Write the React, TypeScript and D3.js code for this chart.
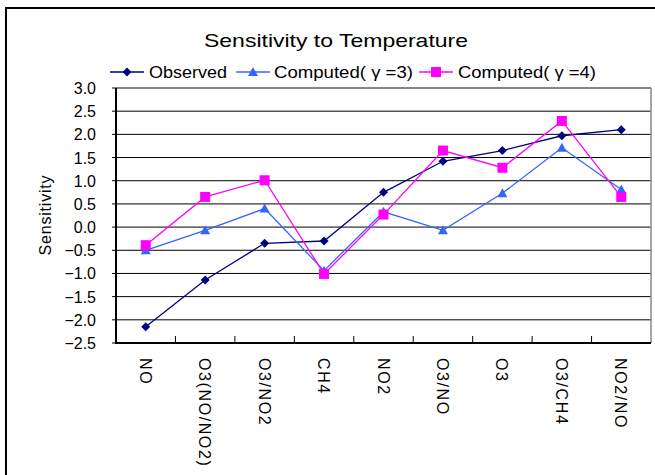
import React from "react";
import * as d3 from "d3";

const categories = ["NO", "O3(NO/NO2)", "O3/NO2", "CH4", "NO2", "O3/NO", "O3", "O3/CH4", "NO2/NO"];
const observed = [-2.15, -1.14, -0.35, -0.3, 0.75, 1.42, 1.65, 1.97, 2.1];
const computed3 = [-0.5, -0.07, 0.4, -0.94, 0.33, -0.07, 0.73, 1.71, 0.81];
const computed4 = [-0.39, 0.65, 1.01, -1.01, 0.27, 1.65, 1.28, 2.29, 0.65];
const yTicks = [3.0, 2.5, 2.0, 1.5, 1.0, 0.5, 0.0, -0.5, -1.0, -1.5, -2.0, -2.5];

const series = [
  { name: "Observed", values: observed, color: "#000080", marker: "diamond" },
  { name: "Computed( γ =3)", values: computed3, color: "#3366FF", marker: "triangle" },
  { name: "Computed( γ =4)", values: computed4, color: "#FF00FF", marker: "square" },
];

const font = "'Liberation Sans', Arial, sans-serif";

function Marker({ type, x, y, color }: { type: string; x: number; y: number; color: string }) {
  if (type === "diamond") {
    return <path d={`M${x},${y - 4.5}L${x + 4.5},${y}L${x},${y + 4.5}L${x - 4.5},${y}Z`} fill={color} />;
  }
  if (type === "triangle") {
    return <path d={`M${x},${y - 5}L${x + 5},${y + 4}L${x - 5},${y + 4}Z`} fill={color} />;
  }
  return <rect x={x - 5} y={y - 5} width={10} height={10} fill={color} />;
}

export default function App() {
  const left = 116, right = 651, top = 88, bottom = 343;
  const x = d3.scaleBand<string>().domain(categories).range([left, right]);
  const y = d3.scaleLinear().domain([-2.5, 3.0]).range([bottom, top]);
  const cx = (c: string) => (x(c) ?? 0) + x.bandwidth() / 2;
  const line = d3.line<number>().x((_, i) => cx(categories[i])).y((d) => y(d));

  // legend layout: line start, text start, text width
  const legendItems = [
    { lx: 110, tx: 149, w: 78 },
    { lx: 236, tx: 274, w: 139 },
    { lx: 419, tx: 458, w: 138 },
  ];

  return (
    <svg width={655} height={475} style={{ position: "absolute", left: 0, top: 0 }}>
      <rect x={0} y={0} width={655} height={475} fill="#fff" />
      <line x1={6} y1={8} x2={6} y2={475} stroke="#000" strokeWidth={2} />
      <line x1={5} y1={8} x2={655} y2={8} stroke="#000" strokeWidth={2} />

      <text x={204} y={47} textLength={264} lengthAdjust="spacingAndGlyphs" fontFamily={font} fontSize={19}>
        Sensitivity to Temperature
      </text>

      {series.map((s, i) => (
        <g key={s.name}>
          <line x1={legendItems[i].lx} x2={legendItems[i].lx + 34} y1={72} y2={72} stroke={s.color} strokeWidth={1.5} />
          <Marker type={s.marker} x={legendItems[i].lx + 17} y={72} color={s.color} />
          <text x={legendItems[i].tx} y={78} textLength={legendItems[i].w} lengthAdjust="spacingAndGlyphs" fontFamily={font} fontSize={17}>
            {s.name}
          </text>
        </g>
      ))}

      {yTicks.map((t) => (
        <g key={t}>
          <line x1={left} x2={right} y1={y(t)} y2={y(t)} stroke="#000" strokeWidth={1} />
          <line x1={left - 4} x2={left} y1={y(t)} y2={y(t)} stroke="#000" />
          <text x={96} y={y(t) + 6} textAnchor="end" fontFamily={font} fontSize={16}>
            {t < 0 ? "−" + Math.abs(t).toFixed(1) : t.toFixed(1)}
          </text>
        </g>
      ))}
      <line x1={right} x2={right} y1={top} y2={bottom} stroke="#888" strokeWidth={1.5} />
      <line x1={left} x2={right} y1={top} y2={top} stroke="#888" strokeWidth={1.5} />
      <line x1={left} x2={left} y1={top} y2={bottom + 1} stroke="#000" strokeWidth={2} />
      <line x1={left} x2={right} y1={bottom} y2={bottom} stroke="#000" strokeWidth={2} />
      {categories.map((c, i) =>
        i === 0 ? null : (
          <line key={c} x1={x(c)} x2={x(c)} y1={bottom} y2={bottom - 7} stroke="#000" />
        )
      )}

      <text transform={`translate(51,215) rotate(-90)`} textAnchor="middle" fontFamily={font} fontSize={16} letterSpacing={0.8}>
        Sensitivity
      </text>

      {categories.map((c) => (
        <text key={c} transform={`translate(${cx(c) - 6},358) rotate(90)`} fontFamily={font} fontSize={16} letterSpacing={1.6}>
          {c}
        </text>
      ))}

      {series.map((s) => (
        <g key={s.name}>
          <path d={line(s.values) ?? ""} fill="none" stroke={s.color} strokeWidth={1.3} />
          {s.values.map((v, i) => (
            <Marker key={i} type={s.marker} x={cx(categories[i])} y={y(v)} color={s.color} />
          ))}
        </g>
      ))}
    </svg>
  );
}
